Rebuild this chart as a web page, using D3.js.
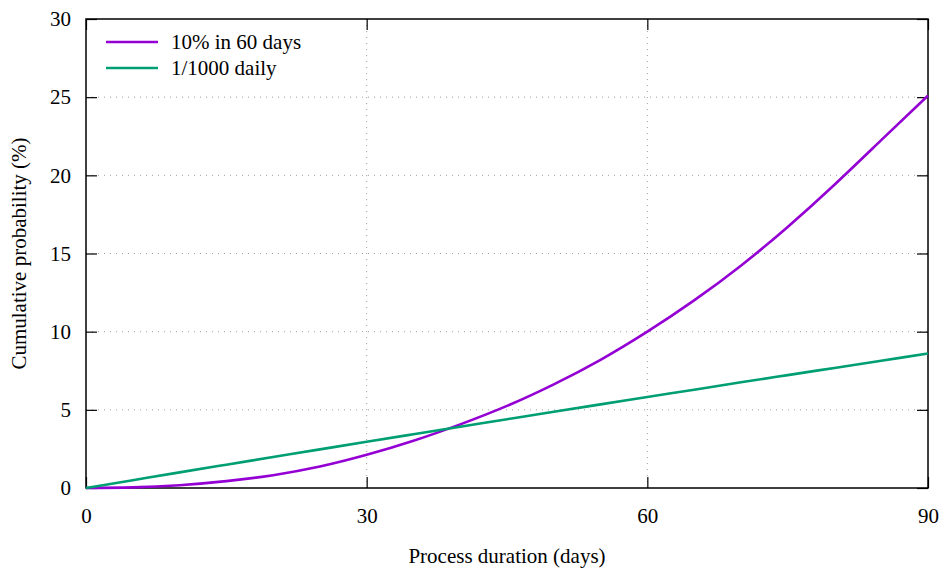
<!DOCTYPE html>
<html lang="en">
<head>
<meta charset="UTF-8">
<title>Cumulative probability</title>
<script src="https://cdnjs.cloudflare.com/ajax/libs/d3/7.8.5/d3.min.js"></script>
<style>
    body { margin: 0; background: white; }
    svg text { font-family: "Liberation Serif", "Times New Roman", serif; font-size: 21px; fill: black; }
</style>
</head>
<body>
<div id="chart"></div>
<script>
    // values
    const days = [0, 5, 10, 15, 20, 25, 30, 35, 40, 45, 50, 55, 60, 65, 70, 75, 80, 85, 90];
    const sixtyDay = [0, 0.04, 0.18, 0.44, 0.82, 1.37, 2.12, 3.02, 4.07, 5.25, 6.63, 8.2, 10.0, 12.0, 14.22, 16.7, 19.4, 22.25, 25.1];
    const daily = [0, 0.5, 1.0, 1.49, 1.98, 2.47, 2.96, 3.44, 3.92, 4.4, 4.88, 5.35, 5.82, 6.29, 6.76, 7.22, 7.68, 8.14, 8.6];
    const xTicks = [0, 30, 60, 90];
    const yTicks = [0, 5, 10, 15, 20, 25, 30];
    const seriesNames = ["10% in 60 days", "1/1000 daily"];
    const seriesColors = ["#9400d3", "#009e73"];

    const W = 944, H = 572;
    const margin = { top: 19, right: 16, bottom: 84, left: 86 };
    const width = W - margin.left - margin.right;
    const height = H - margin.top - margin.bottom;

    const svg = d3.select("#chart").append("svg")
        .attr("width", W)
        .attr("height", H);

    const g = svg.append("g")
        .attr("transform", `translate(${margin.left},${margin.top})`);

    const x = d3.scaleLinear().domain([0, 90]).range([0, width]);
    const y = d3.scaleLinear().domain([0, 30]).range([height, 0]);

    // grid
    g.append("g").selectAll("line")
        .data(xTicks.slice(1, -1))
        .join("line")
        .attr("x1", d => x(d)).attr("x2", d => x(d))
        .attr("y1", 0).attr("y2", height)
        .attr("stroke", "#a0a0a0").attr("stroke-width", 1)
        .attr("stroke-dasharray", "1,5");
    g.append("g").selectAll("line")
        .data(yTicks.slice(1, -1))
        .join("line")
        .attr("x1", 0).attr("x2", width)
        .attr("y1", d => y(d)).attr("y2", d => y(d))
        .attr("stroke", "#a0a0a0").attr("stroke-width", 1)
        .attr("stroke-dasharray", "1,5");

    // axes, gnuplot style: inward ticks, mirrored
    const tickLen = 11;
    g.append("g")
        .attr("transform", `translate(0,${height})`)
        .call(d3.axisBottom(x).tickValues(xTicks).tickSize(-tickLen).tickPadding(tickLen + 9));
    g.append("g")
        .call(d3.axisLeft(y).tickValues(yTicks).tickSize(-tickLen).tickPadding(tickLen + 4));
    g.append("g")
        .call(d3.axisTop(x).tickValues(xTicks).tickSize(-tickLen).tickFormat(""));
    g.append("g")
        .attr("transform", `translate(${width},0)`)
        .call(d3.axisRight(y).tickValues(yTicks).tickSize(-tickLen).tickFormat(""));

    g.selectAll(".domain").remove();
    g.selectAll(".tick line").attr("stroke", "black").attr("stroke-width", 1.2);
    g.selectAll(".tick text")
        .attr("font-family", null)
        .style("font-family", "\"Liberation Serif\"")
        .style("font-size", "21px");

    // border
    g.append("rect")
        .attr("x", 0).attr("y", 0)
        .attr("width", width).attr("height", height)
        .attr("fill", "none")
        .attr("stroke", "black")
        .attr("stroke-width", 1.5);

    // curves
    const line = d3.line()
        .x(d => x(d[0]))
        .y(d => y(d[1]))
        .curve(d3.curveNatural);

    [sixtyDay, daily].forEach((vals, i) => {
        g.append("path")
            .datum(days.map((d, j) => [d, vals[j]]))
            .attr("fill", "none")
            .attr("stroke", seriesColors[i])
            .attr("stroke-width", 2.6)
            .attr("d", line);
    });

    // legend
    const legend = g.append("g").attr("transform", "translate(20,23)");
    seriesNames.forEach((name, i) => {
        const row = legend.append("g").attr("transform", `translate(0,${i * 26})`);
        row.append("line")
            .attr("x1", 0).attr("x2", 52)
            .attr("y1", 0).attr("y2", 0)
            .attr("stroke", seriesColors[i])
            .attr("stroke-width", 2.6);
        row.append("text")
            .attr("x", 65)
            .attr("y", 7)
            .text(name);
    });

    // axis titles
    svg.append("text")
        .attr("x", margin.left + width / 2)
        .attr("y", 563)
        .attr("text-anchor", "middle")
        .text("Process duration (days)");

    svg.append("text")
        .attr("transform", `translate(26,${margin.top + height / 2}) rotate(-90)`)
        .attr("text-anchor", "middle")
        .text("Cumulative probability (%)");
</script>
</body>
</html>
